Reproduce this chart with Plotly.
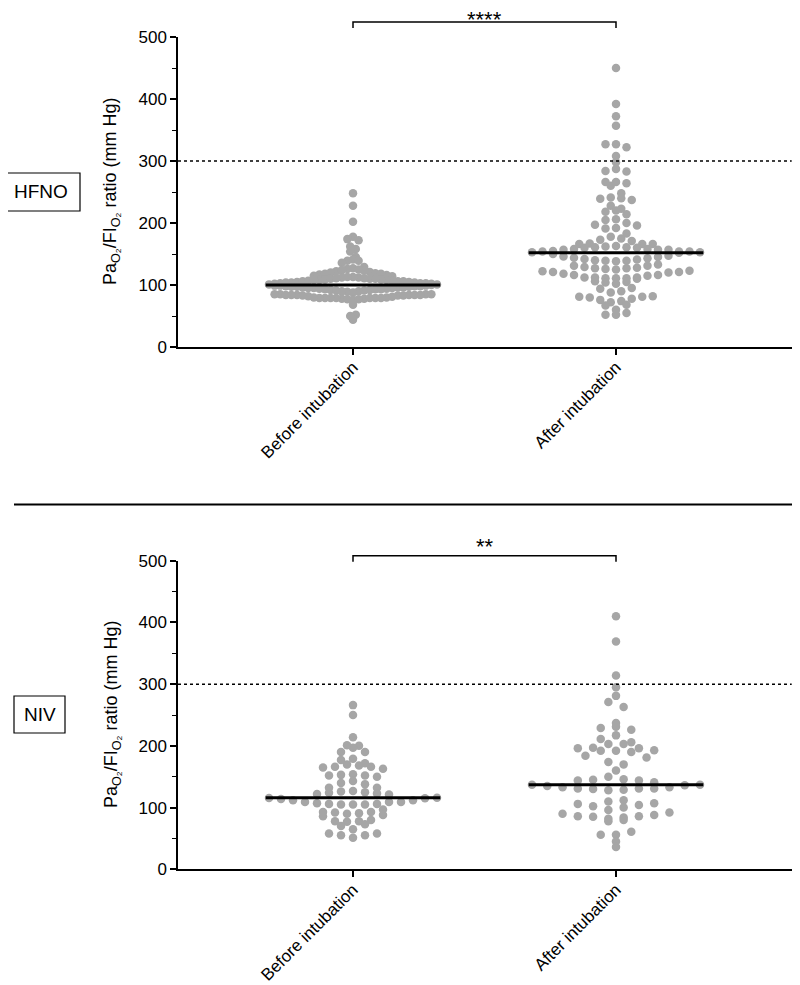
import numpy as np
import plotly.graph_objects as go

# ---------------- data (PaO2/FiO2, mm Hg) ----------------
categories = ["Before intubation", "After intubation"]
y_ticks = [0, 100, 200, 300, 400, 500]
panel_labels = ["HFNO", "NIV"]
significance = ["****", "**"]
threshold = 300

hfno_before = [
    248, 228, 202, 178, 174, 172, 162, 158, 154, 145, 141, 139, 139, 136, 129,
    114, 117, 122, 126, 118, 121, 124, 115, 119, 123, 127, 116, 120, 125, 118,
    101, 108, 112, 104, 110, 106, 103, 109, 111, 105, 102, 107, 113, 104, 108, 101,
    110, 106, 103, 112, 109, 105, 102, 107, 111, 104, 108, 103, 110, 106, 113,
    100,
    89, 95, 92, 97, 91, 99, 93, 96, 98, 94, 90, 97, 95, 99, 92, 96, 98, 93, 91, 97,
    94, 99, 95, 88, 96, 93, 98, 90,
    84, 78, 82, 83, 85, 80, 84, 84, 84, 78, 79, 79, 79, 79, 76, 77, 77, 79, 79, 79,
    84, 83, 85, 83, 81, 80, 85, 84, 85,
    68, 52, 50, 44,
]
hfno_after = [
    450, 392, 372, 357, 327, 322, 327, 308, 298, 283, 284, 287, 264, 260, 266, 266,
    248, 237, 228, 241, 240, 239, 218, 214, 223, 220, 200, 196, 197, 205, 206, 191,
    192, 183, 178, 175, 171, 166, 166, 166, 173, 167,
    154, 153, 154, 155, 161, 157, 161, 157, 163, 162, 158, 158, 160, 160, 157, 154, 153,
    152,
    146, 144, 140, 142, 139, 138.5, 139, 141, 145, 147, 143, 150,
    131, 127, 125, 131, 129, 127, 128, 126, 133,
    121, 116, 112, 111, 112, 111, 121, 123, 112, 111, 115, 116, 120, 122, 118,
    104, 106, 102, 110, 105,
    95, 94, 90, 88,
    82, 81, 78, 72, 81, 74, 76, 80,
    68, 67, 60,
    52, 52, 55,
]
niv_before = [
    266, 250, 214, 200, 197, 201, 190, 190, 177, 179, 172, 170, 166, 163, 166, 165,
    168, 152, 150, 154, 153, 152, 143, 140, 138, 127, 132, 132, 125, 122, 124, 126, 123, 121,
    116, 114, 115.5, 112, 106, 112, 106, 105, 105, 107, 109, 109, 105, 109, 115,
    91, 97, 93, 92, 93, 90,
    86, 88, 78, 80, 77, 78,
    73, 70, 65,
    55, 58, 55, 58, 51,
]
niv_after = [
    410, 369, 314, 295, 281, 271, 263, 237, 231, 229, 226, 217, 211, 203, 206, 203,
    197, 193, 192, 192, 196, 196, 190, 181, 184, 174, 170, 160, 150, 146, 145, 144, 144, 141,
    137, 137, 133, 128, 131, 135, 130, 131, 131, 129, 133, 136,
    112, 110,
    107, 106, 104, 102, 100, 96,
    92, 90, 88, 86, 86, 85, 84, 82,
    80, 78,
    61, 56, 56,
    45, 36,
]

panels = [(hfno_before, hfno_after), (niv_before, niv_after)]

# ---------------- geometry (pixels of the 800x985 page) ----------------
PAGE_OFF = 8                      # default body margin of the html page
W, H = 800 - PAGE_OFF, 985 - PAGE_OFF
X_LEFT, X_RIGHT = 178, 791.7
CAT0_PX, CAT1_PX = 353, 616
PX_PER_CAT = CAT1_PX - CAT0_PX
Y_PIX = [(37, 347), (560.7, 869.3)]          # (pixel of 500, pixel of 0)
BRACKET_PX = [22, 555.7]
STAR_PX = [19, 546.5]
GREY = "#a6a6a6"
FONT = "Liberation Sans, Arial, Helvetica, sans-serif"


def xp(px):
    return (px - PAGE_OFF) / W


def yp(py):
    return 1 - (py - PAGE_OFF) / H


def swarm_offsets(values, px_per_unit, row_px=8.5, width_px=168):
    """Prism-like row layout: values are binned into rows around the median,
    each row spread horizontally and centred on the category."""
    v = np.asarray(values, dtype=float)
    med = np.median(v)
    h = row_px / px_per_unit
    rows = {}
    for i, val in enumerate(v):
        if val > med:
            k = int(np.floor((val - med) / h))
        else:
            k = -1 - int(np.floor((med - val) / h))
        rows.setdefault(k, []).append(i)
    maxn = max(len(r) for r in rows.values())
    step = width_px / max(maxn - 1, 1)
    off = np.zeros(len(v))
    for k, idx in rows.items():
        n = len(idx)
        slots = [j - (n - 1) / 2 for j in range(n)]
        order = sorted(slots, key=lambda o: (abs(o), o))
        idx_sorted = sorted(idx, key=lambda i: -abs(v[i] - med))
        for i, o in zip(idx_sorted, order):
            off[i] = o * step / PX_PER_CAT
    return off, med


fig = go.Figure()
r0 = -(CAT0_PX - X_LEFT) / PX_PER_CAT
r1 = r0 + (X_RIGHT - X_LEFT) / PX_PER_CAT
shapes = []
annotations = []

for p, (groups, (py500, py0)) in enumerate(zip(panels, Y_PIX)):
    xa = "x" if p == 0 else "x2"
    ya = "y" if p == 0 else "y2"
    px_per_unit = (py0 - py500) / 500.0
    for c, vals in enumerate(groups):
        off, med = swarm_offsets(vals, px_per_unit)
        fig.add_trace(go.Scatter(
            x=c + off, y=vals, mode="markers", xaxis=xa, yaxis=ya,
            marker=dict(size=8.5, color=GREY, line=dict(width=0)),
            showlegend=False, hoverinfo="y"))
        fig.add_trace(go.Scatter(
            x=[c - 0.332, c + 0.332], y=[med, med], mode="lines",
            xaxis=xa, yaxis=ya, line=dict(color="black", width=3),
            showlegend=False, hoverinfo="skip"))
    # threshold dotted line
    shapes.append(dict(type="line", xref=f"{xa} domain", yref=ya, x0=0, x1=1,
                       y0=threshold, y1=threshold,
                       line=dict(color="black", width=1.5, dash="dot")))
    # significance bracket
    top_px = BRACKET_PX[p]
    shapes.append(dict(type="path", xref=xa, yref="paper",
                       path=f"M 0,{yp(top_px + 6)} L 0,{yp(top_px)} L 1,{yp(top_px)} L 1,{yp(top_px + 6)}",
                       line=dict(color="black", width=1.5)))
    annotations.append(dict(xref=xa, yref="paper", x=0.5, y=yp(STAR_PX[p]),
                            xanchor="center", yanchor="middle",
                            text=significance[p], showarrow=False,
                            font=dict(size=22, color="black", family=FONT)))
    # y-axis title
    annotations.append(dict(xref="paper", yref="paper", x=xp(112),
                            y=yp((py500 + py0) / 2), textangle=-90,
                            xanchor="center", yanchor="middle",
                            text="Pa<sub>O₂</sub>/FI<sub>O₂</sub> ratio (mm Hg)",
                            showarrow=False,
                            font=dict(size=18, color="black", family=FONT)))

# panel label boxes
boxes = [(2, 173, 80, 211), (14, 696, 65, 733)]
for lab, (bx0, by0, bx1, by1) in zip(panel_labels, boxes):
    shapes.append(dict(type="rect", xref="paper", yref="paper",
                       x0=xp(bx0), x1=xp(bx1), y0=yp(by1), y1=yp(by0),
                       line=dict(color="black", width=1.2)))
    annotations.append(dict(xref="paper", yref="paper", x=xp((bx0 + bx1) / 2),
                            y=yp((by0 + by1) / 2), xanchor="center", yanchor="middle",
                            text=lab, showarrow=False,
                            font=dict(size=19, color="black", family=FONT)))

# separator between panels
shapes.append(dict(type="line", xref="paper", yref="paper", x0=xp(14), x1=1,
                   y0=yp(504.5), y1=yp(504.5), line=dict(color="black", width=2)))

xaxis_common = dict(range=[r0, r1], domain=[xp(X_LEFT), xp(X_RIGHT)],
                    tickvals=[0, 1], ticktext=categories, tickangle=-45,
                    ticks="outside", ticklen=6, tickwidth=1.5, tickcolor="black",
                    ticklabelstandoff=-4,
                    showline=True, linecolor="black", linewidth=1.5,
                    showgrid=False, zeroline=False, automargin=False,
                    tickfont=dict(size=17, color="black", family=FONT))
yaxis_common = dict(range=[0, 500], tickvals=y_ticks,
                    ticks="outside", ticklen=6, tickwidth=1.5, tickcolor="black",
                    minor=dict(dtick=50, tick0=0, ticks="outside", ticklen=4,
                               tickwidth=1.2, tickcolor="black"),
                    showline=True, linecolor="black", linewidth=1.5,
                    showgrid=False, zeroline=False, automargin=False,
                    tickfont=dict(size=17, color="black", family=FONT))

fig.update_layout(
    width=W, height=H, template="none",
    paper_bgcolor="white", plot_bgcolor="white",
    margin=dict(l=0, r=0, t=0, b=0),
    xaxis=dict(anchor="y", **xaxis_common),
    xaxis2=dict(anchor="y2", **xaxis_common),
    yaxis=dict(anchor="x", domain=[yp(Y_PIX[0][1]), yp(Y_PIX[0][0])], **yaxis_common),
    yaxis2=dict(anchor="x2", domain=[yp(Y_PIX[1][1]), yp(Y_PIX[1][0])], **yaxis_common),
    shapes=shapes, annotations=annotations, showlegend=False,
    font=dict(family=FONT, color="black"),
)

fig.write_html("out.html")
